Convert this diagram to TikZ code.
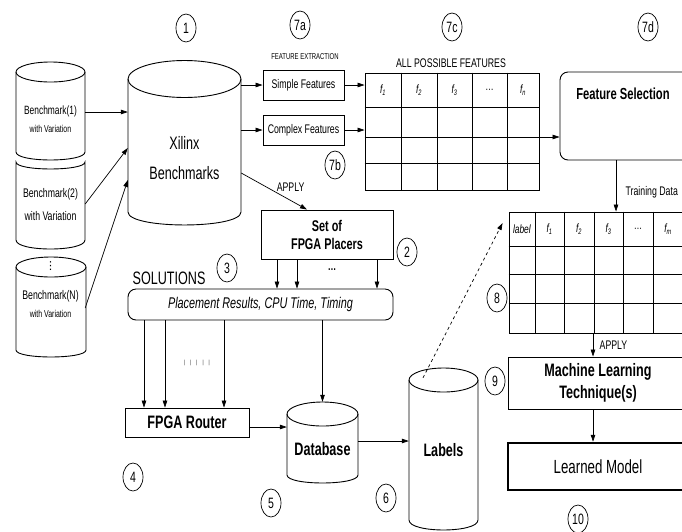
\documentclass[tikz,border=0pt]{standalone}
\usepackage{fontspec}
\setmainfont{Liberation Sans}[FakeStretch=0.7]
\newfontfamily\symfont{DejaVu Sans}
\usetikzlibrary{arrows.meta, shapes.geometric, positioning, calc}

\newcommand{\fsub}[1]{\textit{f\textsubscript{#1}}}
\newcommand{\fsz}[2]{\fontsize{#1}{#2}\selectfont}

\tikzset{
  fpnode/.style={draw, line width=0.9pt, inner sep=0pt, align=center},
  fpbox/.style={fpnode, fill=white},
  fpround/.style={fpnode, rounded corners=8pt},
  drumbody/.style={inner sep=0pt, align=center},
  drum/.style={line width=0.9pt},
  grid/.style={line width=0.9pt},
  stepnum/.style={draw, ellipse, line width=0.7pt, minimum width=20pt, minimum height=28pt, inner sep=0pt, font=\fsz{15}{15}},
  flow/.style={-{Stealth[length=7pt, width=4.5pt, inset=0pt]}, line width=0.7pt},
  dashflow/.style={flow, dashed},
  tag/.style={font=\fsz{12.5}{14}},
  hdr/.style={font=\fsz{12}{14}},
  bigtxt/.style={font=\fsz{18}{22}},
  bigbold/.style={font=\fsz{18}{22}\bfseries}
}

\begin{document}
\begin{tikzpicture}[x=1pt, y=-1pt]
  \useasboundingbox (0,0) rectangle (682,531);
  \clip (0,0) rectangle (682,531);

  % cylinder outlines
  \foreach \cx/\hw/\ty/\ry/\by/\sg in {50.5/34.5/72/10/152/8, 51/35/267/10/350/7,
      184.5/56.5/79/18.5/212/13, 322.5/35.5/414/12/475/8, 443.5/34.5/380/12/520/10}{
    \draw[drum] ({\cx-\hw},\ty) -- ({\cx-\hw},\by)
      .. controls ({\cx-\hw},{\by+1.33*\sg}) and ({\cx+\hw},{\by+1.33*\sg}) .. ({\cx+\hw},\by)
      -- ({\cx+\hw},\ty);
    \draw[drum] (\cx,\ty) ellipse [x radius=\hw, y radius=\ry];
  }
  \draw[drum] (16,162) .. controls (16,171.3) and (85,171.3) .. (85,162) -- (85,240)
    .. controls (85,252) and (16,252) .. (16,240) -- cycle;

  % cylinder bodies
  \node[drumbody, minimum width=69pt, minimum height=90pt,
    label={[font=\fsz{12}{18}, align=center, yshift=-12pt]center:{Benchmark(1)\\{\fsz{10}{12}with Variation}}}] (bm1) at (50.5,107) {};
  \node[drumbody, minimum width=69pt, minimum height=78pt,
    label={[font=\fsz{12.5}{23}, align=center, yshift=-3.5pt]center:{Benchmark(2)\\with Variation}}] (bm2) at (50.5,201) {};
  \node[drumbody, minimum width=69pt, minimum height=93pt,
    label={[font=\symfont\fsz{11}{12}, yshift=37.5pt]center:{⋮}},
    label={[font=\fsz{12.5}{18}, align=center, yshift=-0.5pt]center:{Benchmark(N)\\{\fsz{10}{12}with Variation}}}] (bmn) at (50.5,303.5) {};
  \node[drumbody, minimum width=113pt, minimum height=151pt,
    label={[font=\fsz{18}{30}, align=center, yshift=-21.5pt]center:{Xilinx\\Benchmarks}}] (xil) at (184.5,136.5) {};
  \node[drumbody, minimum width=71pt, minimum height=73pt,
    label={[bigbold, yshift=-10.5pt]center:Database}] (db) at (322.5,438.5) {};
  \node[drumbody, minimum width=69pt, minimum height=152pt,
    label={[bigbold, yshift=-6pt]center:Labels}] (lab) at (443.5,444) {};

  % boxes
  \node[fpbox, minimum width=81pt, minimum height=30pt, tag] (simple) at (303.5,85) {Simple Features};
  \node[fpbox, minimum width=81pt, minimum height=30pt, tag] (complex) at (303.5,130) {Complex Features};
  \node[fpbox, minimum width=132pt, minimum height=49pt, font=\fsz{15.5}{18}\bfseries] (placers) at (327,234.5) {Set of\\FPGA Placers};
  \node[fpround, minimum width=265pt, minimum height=31pt, font=\fsz{15.5}{18}\itshape] (sol) at (260.5,304.5) {Placement Results, CPU Time, Timing};
  \node[fpbox, minimum width=124pt, minimum height=29pt, bigbold] (router) at (187,422.5) {FPGA Router};
  \node[fpround, minimum width=160pt, minimum height=88pt] (fsel) at (640,116) {};
  \node[font=\fsz{16}{18}\bfseries] (fseltxt) at (623,94) {Feature Selection};
  \node[fpbox, minimum width=180pt, minimum height=52pt, bigbold] (ml) at (598,383) {Machine Learning\\Technique(s)};
  \node[fpbox, line width=2.5pt, minimum width=180pt, minimum height=47pt, font=\fsz{19}{22}] (model) at (598,466.5) {Learned Model};

  % feature tables
  \node[fpnode, minimum width=174pt, minimum height=117pt] (feat) at (452,131.5) {};
  \foreach \x in {401,437,472,507}
    \draw[grid] (feat.north -| \x,0) -- (feat.south -| \x,0);
  \foreach \y in {107,137,163}
    \draw[grid] (feat.west |- 0,\y) -- (feat.east |- 0,\y);
  \foreach \x/\t [count=\i] in {383/\fsub{1}, 419/\fsub{2}, 454.5/\fsub{3}, 489.5/\ldots, 523/\fsub{n}}
    \node[hdr] (fh\i) at (\x,90) {\t};

  \node[fpnode, minimum width=174pt, minimum height=121pt] (train) at (596,272.5) {};
  \foreach \x in {535,564,594,623,653}
    \draw[grid] (train.north -| \x,0) -- (train.south -| \x,0);
  \foreach \y in {246,274,303}
    \draw[grid] (train.west |- 0,\y) -- (train.east |- 0,\y);
  \foreach \x/\t [count=\i] in {522/\textit{label}, 549.5/\fsub{1}, 579/\fsub{2}, 608.5/\fsub{3}, 638/\ldots, 668/\fsub{m}}
    \node[hdr] (th\i) at (\x,229) {\t};

  % free texts
  \node[font=\fsz{8.5}{10}] (fext) at (305,57) {FEATURE EXTRACTION};
  \node[tag] (allf) at (451,63) {ALL POSSIBLE FEATURES};
  \node[font=\fsz{18}{20}] (soltag) at (169,278) {SOLUTIONS};
  \node[font=\fsz{12}{14}\bfseries] (pdots) at (332,270) {\ldots};
  \node[font=\fsz{6}{8}] (rdots) at (197,363) {|\hspace{5pt}|\hspace{5pt}|\hspace{5pt}|\hspace{5pt}|};

  % step numbers
  \foreach \n/\x/\y in {1/186/28, 2/407/252, 3/227/268, 4/133/477, 5/271/503, 6/386/498,
      7a/300/25, 7b/335/165, 7c/452/27, 7d/648/27, 8/497/298, 9/495/381, 10/578/519}
    \node[stepnum] (n\n) at (\x,\y) {\n};

  % connectors
  \draw[flow] ([yshift=-5pt]bm1.east) -- ([yshift=-5pt]bm1.east -| xil.west);
  \draw[flow] ([yshift=-3pt]bm2.east) -- ([yshift=-11.5pt]xil.west);
  \draw[flow] ([yshift=-4.5pt]bmn.east) -- ([yshift=-43.5pt]xil.west);
  \draw[flow] (xil.east |- simple.west) -- (simple.west);
  \draw[flow] (xil.east |- complex.west) -- (complex.west);
  \draw[flow] (simple.east) -- (simple.east -| feat.west);
  \draw[flow] (complex.east) -- (complex.east -| feat.west);
  \draw[flow] ([yshift=-5.5pt]feat.east) -- ([yshift=-5.5pt]feat.east -| fsel.west);
  \draw[flow] ([yshift=-36.5pt]xil.east) -- node[tag, pos=0.75, above=5pt] (apply1) {APPLY} ([xshift=-20pt]placers.north);
  \foreach \dx in {-50,-30,50}
    \draw[flow] ([xshift=\dx pt]placers.south) -- ([xshift=\dx pt]placers.south |- sol.north);
  \foreach \dx in {-43,-22,37}
    \draw[flow] ([xshift=\dx pt]router.north |- sol.south) -- ([xshift=\dx pt]router.north);
  \draw[flow] (sol.south -| db.north) -- (db.north);
  \draw[flow] ([yshift=-4.5pt]router.east) -- ([yshift=-4.5pt]router.east -| db.west);
  \draw[flow] ([yshift=-2.5pt]db.east) -- ([yshift=-2.5pt]db.east -| lab.west);
  \draw[dashflow] ([xshift=-20.5pt, yshift=-10pt]lab.north) -- ([xshift=-6pt, yshift=49.5pt]train.west);
  \draw[flow] ([xshift=-24pt]fsel.south) -- node[tag, pos=0.63, right=6pt] (tdata) {Training Data} ([xshift=-24pt]fsel.south |- train.north);
  \draw[flow] ([xshift=-3pt]train.south) -- node[tag, pos=0.5, right=3pt] (apply2) {APPLY} ([xshift=-3pt]train.south |- ml.north);
  \draw[flow] ([xshift=-5pt]ml.south) -- ([xshift=-5pt]ml.south |- model.north);
\end{tikzpicture}
\end{document}
